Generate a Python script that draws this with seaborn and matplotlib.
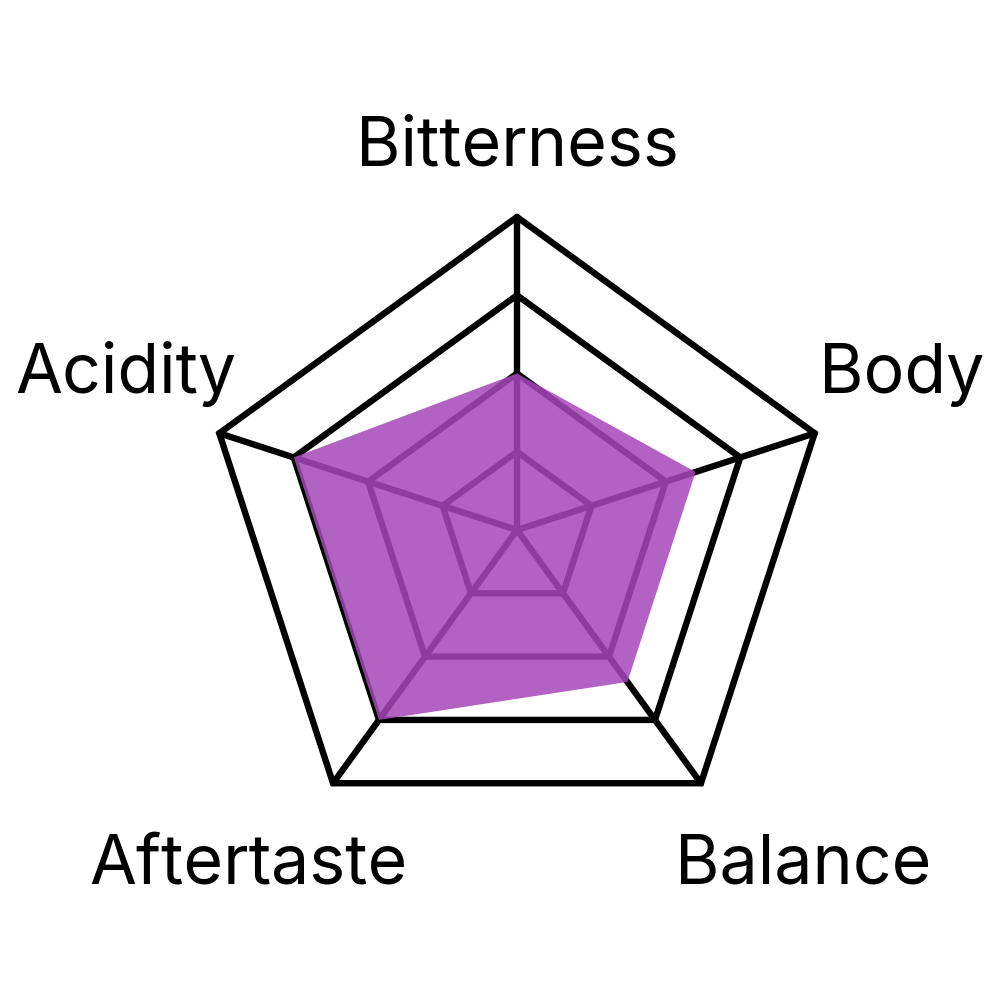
import numpy as np
import seaborn as sns
import matplotlib
import matplotlib.pyplot as plt

matplotlib.use('Agg')

# Data
categories = ['Bitterness', 'Body', 'Balance', 'Aftertaste', 'Acidity']
values = [5, 6, 6, 7.5, 7.5]
grid_levels = [2.5, 5, 7.5, 10]
max_value = 10

# Label placement in figure pixels (center x, baseline y)
label_pos = [(517, 165), (902, 393), (803, 883), (248, 883), (126, 393)]

sns.set_theme(style='white')
plt.rcParams['font.family'] = ['Inter', 'DejaVu Sans']

fig = plt.figure(figsize=(10, 10), dpi=100)
ax = fig.add_axes([0.204, 0.157, 0.626, 0.626], projection='polar')
ax.set_theta_offset(np.pi / 2)
ax.set_theta_direction(-1)
ax.set_ylim(0, max_value)
ax.set_xticks([])
ax.set_yticks([])
ax.grid(False)
ax.spines['polar'].set_visible(False)
ax.patch.set_alpha(0)

n = len(categories)
angles = np.linspace(0, 2 * np.pi, n, endpoint=False)
closed = np.append(angles, angles[0])

# grid pentagons and spokes
for lvl in grid_levels:
    ax.plot(closed, [lvl] * (n + 1), color='black', lw=4.6,
            solid_joinstyle='miter', clip_on=False, zorder=1)
for a in angles:
    ax.plot([a, a], [0, max_value], color='black', lw=4.6,
            clip_on=False, zorder=1)

# data polygon
vals = values + values[:1]
ax.fill(closed, vals, color='#a548b8', alpha=0.86, lw=0, zorder=2)

for name, (x, y) in zip(categories, label_pos):
    fig.text(x / 1000, 1 - y / 1000, name, ha='center', va='baseline',
             fontsize=49, color='black')

plt.savefig('out.png', dpi=100)
